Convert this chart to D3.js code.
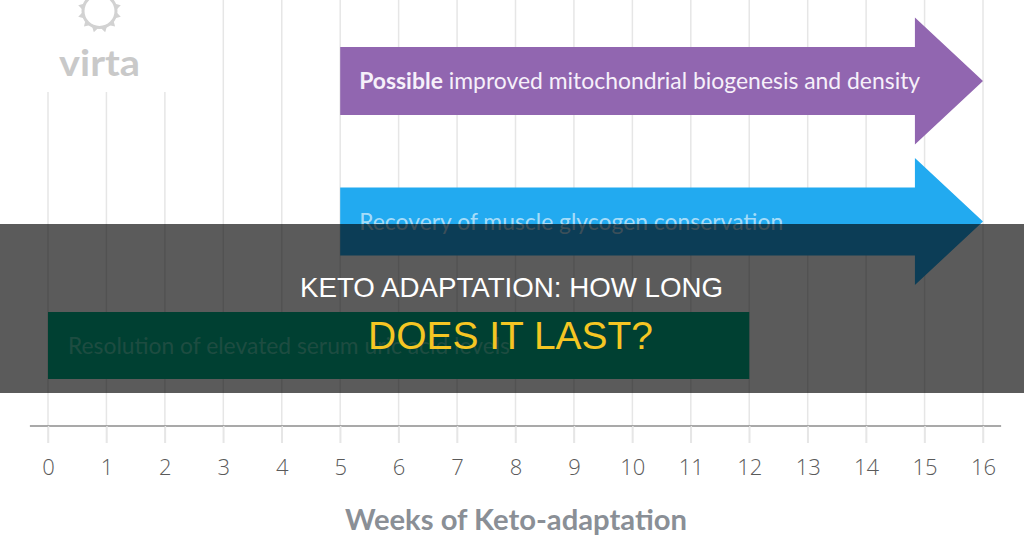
<!DOCTYPE html>
<html>
<head>
<meta charset="utf-8">
<script src="https://cdn.jsdelivr.net/npm/d3@7"></script>
<style>
  html, body { margin: 0; padding: 0; background: #fff; }
  svg { display: block; }
</style>
</head>
<body>
<svg id="chart" width="1024" height="537"></svg>
<script>
// ---- data ----
const weekTicks = [0, 1, 2, 3, 4, 5, 6, 7, 8, 9, 10, 11, 12, 13, 14, 15, 16];
const barKeys   = ["mito", "glycogen", "uric"];
const barBold   = ["Possible", "", ""];
const barLabels = [" improved mitochondrial biogenesis and density",
                   "Recovery of muscle glycogen conservation",
                   "Resolution of elevated serum uric acid levels"];
const barStart  = [5, 5, 0];
const barEnd    = [16, 16, 12];
const barArrow  = [true, true, false];
const axisTitle = "Weeks of Keto-adaptation";
const titleLine1 = "KETO ADAPTATION: HOW LONG";
const titleLine2 = "DOES IT LAST?";

// ---- styles ----
const barFill  = { mito: "#9166b0", glycogen: "#22aaf0", uric: "#00b48c" };
const textFill = { mito: "#f6f0fa", glycogen: "rgba(255,255,255,0.62)", uric: "rgba(190,255,235,0.45)" };
const textLen  = { mito: 561, glycogen: 424, uric: 442 };

const svg = d3.select("#chart");
const W = 1024, H = 537;

const x = d3.scaleLinear().domain([0, 16]).range([48, 983]);
const y = d3.scaleOrdinal().domain(barKeys).range([81, 221.5, 345.5]);
const bodyHalf = 34, headHalf = 63.5, headWeeks = 1.165;
const axisY = 426;

// gridlines
svg.append("g").selectAll("line").data(weekTicks).join("line")
  .attr("x1", d => x(d)).attr("x2", d => x(d))
  .attr("y1", 0).attr("y2", 443)
  .attr("stroke", "#e6e6e6").attr("stroke-width", 1.5);

// logo area (white backing)
svg.append("rect").attr("x", 28).attr("y", 0).attr("width", 168).attr("height", 92).attr("fill", "#fff");
const logo = svg.append("g").attr("transform", "translate(99.5,11)");
logo.append("circle").attr("r", 16.5).attr("fill", "none").attr("stroke", "#d2d2d2").attr("stroke-width", 3);
const teeth = d3.range(12);
logo.selectAll("path.tooth").data(teeth).join("path")
  .attr("d", "M-3,-17 L0,-22 L3,-17 Z")
  .attr("fill", "#d2d2d2")
  .attr("transform", d => `rotate(${d * 30 + 15})`);
svg.append("text").attr("x", 59).attr("y", 76)
  .attr("font-family", "Lato, 'Open Sans', sans-serif").attr("font-weight", 700)
  .attr("font-size", 36).attr("fill", "#c9c9c9")
  .attr("textLength", 81).attr("lengthAdjust", "spacingAndGlyphs")
  .text("virta");

// bars / arrows
const rows = barKeys.map((k, i) => ({ key: k, start: barStart[i], end: barEnd[i], arrow: barArrow[i], bold: barBold[i], label: barLabels[i] }));

function shape(d) {
  const cy = y(d.key);
  const x0 = x(d.start);
  if (d.arrow) {
    const xb = x(d.end - headWeeks), xt = x(d.end);
    return `M${x0},${cy - bodyHalf} L${xb},${cy - bodyHalf} L${xb},${cy - headHalf} L${xt},${cy} L${xb},${cy + headHalf} L${xb},${cy + bodyHalf} L${x0},${cy + bodyHalf} Z`;
  }
  const x1 = x(d.end);
  return `M${x0},${cy - bodyHalf + 0.5} L${x1},${cy - bodyHalf + 0.5} L${x1},${cy + bodyHalf - 0.5} L${x0},${cy + bodyHalf - 0.5} Z`;
}

const g = svg.append("g");
g.selectAll("path.bar").data(rows).join("path")
  .attr("class", "bar")
  .attr("d", shape)
  .attr("fill", d => barFill[d.key]);

const labels = g.selectAll("text.lab").data(rows).join("text")
  .attr("class", "lab")
  .attr("x", d => x(d.start) + (d.start === 0 ? 20 : 19))
  .attr("y", d => y(d.key) + 8)
  .attr("font-family", "Lato, 'Open Sans', sans-serif")
  .attr("font-size", 22.5)
  .attr("fill", d => textFill[d.key])
  .attr("textLength", d => textLen[d.key])
  .attr("lengthAdjust", "spacingAndGlyphs");
labels.each(function(d) {
  const t = d3.select(this);
  if (d.bold) t.append("tspan").attr("font-weight", 700).text(d.bold);
  t.append("tspan").text(d.label);
});

// axis
svg.append("line")
  .attr("x1", x(-0.31)).attr("x2", x(16.31))
  .attr("y1", axisY).attr("y2", axisY)
  .attr("stroke", "#8c8c8c").attr("stroke-width", 1.5);

const axis = d3.axisBottom(x).tickValues(weekTicks).tickFormat(d3.format("d"))
  .tickSize(17).tickPadding(16);
const ag = svg.append("g").attr("transform", `translate(0,${axisY})`).call(axis);
ag.select(".domain").remove();
ag.selectAll(".tick line").attr("stroke", "#e6e6e6").attr("stroke-width", 1.5);
ag.selectAll(".tick text")
  .attr("font-family", "'Open Sans', 'Noto Sans', sans-serif")
  .attr("font-size", 22).attr("font-weight", 300).attr("fill", "#5a5a5a");

svg.append("text")
  .attr("x", (x(0) + x(16)) / 2 + 0.5).attr("y", 530)
  .attr("text-anchor", "middle")
  .attr("font-family", "Lato, 'Open Sans', sans-serif").attr("font-weight", 700)
  .attr("font-size", 28).attr("fill", "#8a8f96")
  .attr("textLength", 342).attr("lengthAdjust", "spacingAndGlyphs")
  .text(axisTitle);

// title overlay band
svg.append("rect").attr("x", 0).attr("y", 224).attr("width", W).attr("height", 169)
  .attr("fill", "rgba(0,0,0,0.645)");
svg.append("text")
  .attr("x", 511.5).attr("y", 297).attr("text-anchor", "middle")
  .attr("font-family", "'Liberation Sans', Arial, sans-serif")
  .attr("font-size", 27.3).attr("fill", "#ffffff")
  .attr("textLength", 423).attr("lengthAdjust", "spacingAndGlyphs")
  .text(titleLine1);
svg.append("text")
  .attr("x", 510.5).attr("y", 349).attr("text-anchor", "middle")
  .attr("font-family", "'Liberation Sans', Arial, sans-serif")
  .attr("font-size", 38.8).attr("fill", "#f5c623")
  .attr("textLength", 285).attr("lengthAdjust", "spacingAndGlyphs")
  .text(titleLine2);
</script>
</body>
</html>
